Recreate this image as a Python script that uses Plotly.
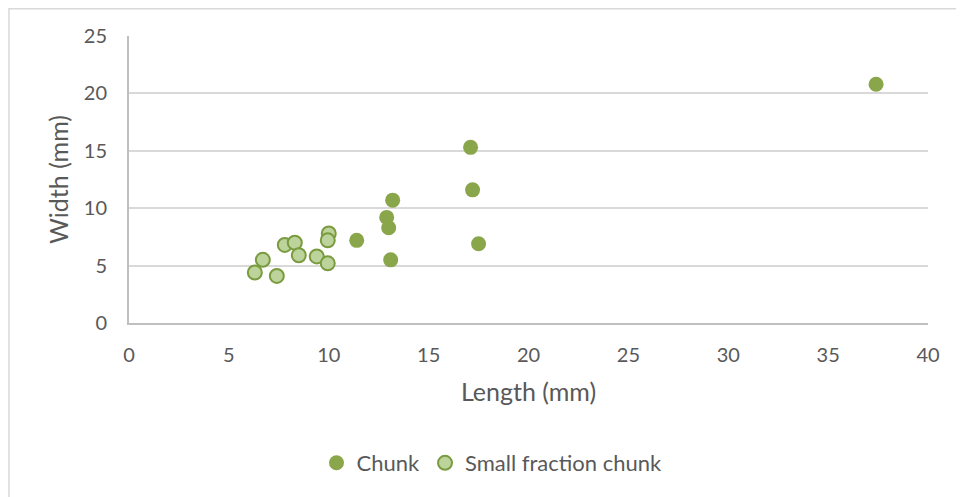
import plotly.graph_objects as go

chunk_length = [37.4, 17.1, 17.2, 17.5, 13.2, 12.9, 13.0, 11.4, 13.1]
chunk_width = [20.8, 15.3, 11.6, 6.9, 10.7, 9.2, 8.3, 7.2, 5.5]

small_length = [6.3, 6.7, 7.4, 7.8, 8.3, 8.5, 9.4, 9.95, 10.0, 9.95]
small_width = [4.4, 5.5, 4.1, 6.8, 7.0, 5.9, 5.8, 5.2, 7.8, 7.2]

x_ticks = [0, 5, 10, 15, 20, 25, 30, 35, 40]
y_ticks = [0, 5, 10, 15, 20, 25]

FONT = "Lato"
TXT = "#595959"

# the page places the figure 8px from the top-left corner
W, H = 956, 489
L, T, PW, PH = 121, 28, 799, 287

fig = go.Figure()
fig.add_trace(go.Scatter(
    x=chunk_length, y=chunk_width, mode="markers", name="Chunk",
    marker=dict(size=15, color="#8AA64B", line=dict(width=0, color="#8AA64B")),
))
fig.add_trace(go.Scatter(
    x=small_length, y=small_width, mode="markers", name="Small fraction chunk",
    marker=dict(size=14, color="#BCD39C", line=dict(width=2, color="#7A9B3E")),
))

fig.update_layout(
    width=W, height=H,
    margin=dict(l=L, r=W - L - PW, t=T, b=H - T - PH, pad=0),
    paper_bgcolor="white", plot_bgcolor="white",
    font=dict(family=FONT, size=20, color=TXT),
    showlegend=True,
    legend=dict(orientation="h", x=(492 - 129) / PW, xanchor="center",
                y=(323 - 463) / PH, yanchor="middle",
                font=dict(size=22, color=TXT), itemsizing="trace", tracegroupgap=0),
    xaxis=dict(range=[0, 40], tickvals=x_ticks, ticktext=[str(v) for v in x_ticks],
               showgrid=False, zeroline=False, showline=True, linecolor="#BFBFBF", linewidth=2,
               ticks="", ticklabelstandoff=13, tickfont=dict(size=20, color=TXT),
               title=dict(text="Length (mm)", standoff=18, font=dict(size=25, color=TXT))),
    yaxis=dict(range=[0, 25], tickvals=y_ticks, ticktext=[str(v) for v in y_ticks],
               showgrid=True, gridcolor="#D9D9D9", gridwidth=2, zeroline=False,
               showline=True, linecolor="#BFBFBF", linewidth=2,
               ticks="", ticklabelstandoff=16, tickfont=dict(size=20, color=TXT),
               title=dict(text="Width (mm)", standoff=8, font=dict(size=25, color=TXT))),
    shapes=[dict(type="rect", xref="paper", yref="paper",
                 x0=(1 - L) / PW, x1=(975 - 8 - L) / PW,
                 y0=(T + PH - 520) / PH, y1=(T + PH - 0.75) / PH,
                 line=dict(color="#D9D9D9", width=1.5), fillcolor="rgba(0,0,0,0)", layer="below")],
)

fig.write_html("out.html")
